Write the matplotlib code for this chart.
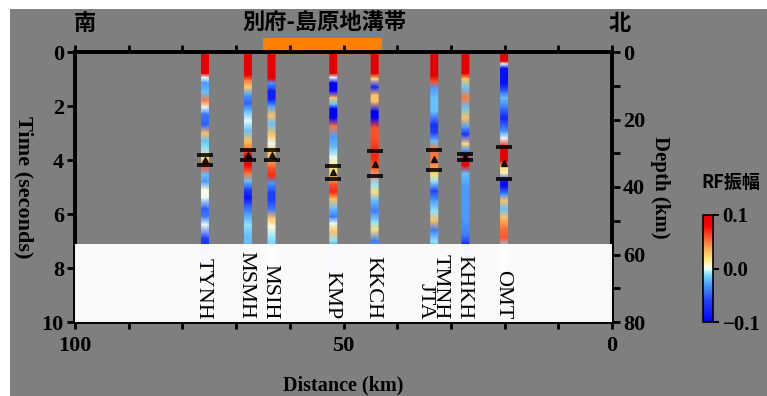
import numpy as np
import matplotlib
matplotlib.use("Agg")
import matplotlib.pyplot as plt
from matplotlib.colors import LinearSegmentedColormap, Normalize
from matplotlib.patches import Rectangle
from matplotlib.ticker import MultipleLocator

# stations along the profile (distance in km, south -> north)
stations = ["TYNH", "MSMH", "MSIH", "KMP", "KKCH", "TMNH\nJTA", "KHKH", "OMT"]
station_km = [75.8, 67.8, 63.4, 51.9, 44.2, 33.1, 27.3, 20.1]

# receiver function amplitude (time in s)
tynh_t = [0, 0.8, 0.95, 1.15, 1.5, 1.8, 2.05, 2.3, 2.7, 3.0, 3.3, 3.55, 3.95, 4.25, 4.55, 4.8, 5.1, 5.4, 5.8, 6.1, 6.4, 6.9, 7.2, 8.0, 9.0, 10.0]
tynh_a = [0.1, 0.1, 0.0, -0.03, -0.02, 0.05, 0.0, -0.04, -0.05, 0.03, -0.02, -0.01, 0.02, 0.06, -0.02, -0.03, 0.005, 0.0, -0.05, -0.04, 0.0, -0.06, -0.07, -0.03, -0.02, -0.03]
msmh_t = [0, 0.85, 1.05, 1.3, 1.6, 1.9, 2.2, 2.55, 2.9, 3.3, 3.6, 3.85, 4.2, 4.5, 4.8, 5.1, 5.4, 5.7, 6.0, 6.4, 6.8, 7.2, 8.5, 10]
msmh_a = [0.1, 0.1, 0.05, 0.025, -0.03, -0.05, -0.02, 0.0, -0.02, 0.03, 0.05, 0.1, 0.09, 0.05, -0.02, -0.06, -0.09, -0.05, -0.03, -0.01, -0.02, -0.02, -0.02, -0.02]
msih_t = [0, 1.0, 1.15, 1.45, 1.75, 2.0, 2.35, 2.65, 3.05, 3.4, 3.7, 3.95, 4.3, 4.6, 4.85, 5.2, 5.5, 5.85, 6.15, 6.45, 6.9, 7.2, 8.5, 10]
msih_a = [0.1, 0.1, -0.03, -0.08, -0.08, -0.03, 0.03, -0.02, 0.03, 0.0, 0.03, 0.03, 0.06, 0.07, -0.03, -0.06, -0.06, -0.04, 0.03, 0.005, -0.01, -0.015, 0.0, 0.0]
kmp_t = [0, 0.8, 0.95, 1.15, 1.45, 1.7, 1.95, 2.1, 2.45, 2.75, 3.15, 3.55, 3.9, 4.3, 4.55, 4.9, 5.2, 5.45, 5.8, 6.1, 6.35, 6.65, 7.0, 7.2, 8.5, 10]
kmp_a = [0.1, 0.1, 0.0, -0.1, -0.1, 0.03, -0.02, -0.1, -0.1, 0.05, -0.03, -0.02, 0.0, 0.02, 0.02, 0.06, 0.07, 0.03, -0.02, -0.04, 0.0, 0.03, -0.01, -0.03, -0.03, -0.04]
kkch_t = [0, 0.8, 1.0, 1.3, 1.6, 1.85, 2.2, 2.45, 2.8, 3.2, 3.6, 4.0, 4.4, 4.9, 5.2, 5.5, 5.9, 6.3, 6.6, 7.0, 7.2, 8.5, 10]
kkch_a = [0.1, 0.1, 0.02, -0.08, 0.03, 0.03, -0.1, -0.1, 0.06, 0.06, 0.07, 0.07, 0.05, -0.01, 0.02, -0.02, -0.04, -0.01, 0.02, -0.04, -0.03, -0.02, -0.03]
tmnh_t = [0, 0.9, 1.1, 1.35, 1.7, 2.2, 2.7, 3.0, 3.3, 3.6, 4.0, 4.3, 4.55, 4.8, 5.15, 5.5, 5.9, 6.25, 6.6, 7.0, 7.2, 8.5, 10]
tmnh_a = [0.1, 0.1, 0.06, -0.03, -0.02, -0.02, -0.07, -0.06, -0.02, 0.05, 0.05, 0.04, 0.02, -0.01, -0.06, -0.03, -0.01, 0.03, -0.04, -0.01, -0.02, -0.02, -0.02]
khkh_t = [0, 0.8, 1.0, 1.35, 1.7, 2.05, 2.45, 2.8, 3.05, 3.4, 3.7, 3.95, 4.2, 4.5, 5.0, 5.6, 6.2, 6.8, 7.1, 8.5, 10]
khkh_a = [0.1, 0.1, 0.03, -0.02, 0.05, -0.02, 0.03, -0.03, -0.07, 0.02, -0.04, 0.08, 0.1, -0.02, -0.03, -0.03, -0.03, -0.04, -0.07, -0.03, 0.04]
omt_t = [0, 0.35, 0.45, 0.6, 1.2, 1.45, 1.7, 2.05, 2.45, 2.95, 3.2, 3.55, 4.05, 4.25, 4.5, 4.8, 5.0, 5.3, 5.5, 5.8, 6.15, 6.5, 6.9, 7.2, 8.5, 10]
omt_a = [0.1, 0.1, 0.0, -0.09, -0.09, -0.05, -0.02, -0.04, -0.08, -0.03, 0.0, 0.1, 0.1, 0.02, 0.01, -0.09, -0.09, -0.03, 0.03, -0.02, 0.03, 0.05, 0.06, -0.01, 0.03, -0.02]

trace_t = [tynh_t, msmh_t, msih_t, kmp_t, kkch_t, tmnh_t, khkh_t, omt_t]
trace_a = [tynh_a, msmh_a, msih_a, kmp_a, kkch_a, tmnh_a, khkh_a, omt_a]

# picked Moho conversion time with error range (s)
moho_t = [4.0, 3.82, 3.82, 4.45, 4.15, 3.95, 3.88, 4.11]
moho_top = [3.81, 3.62, 3.62, 4.23, 3.66, 3.62, 3.78, 3.52]
moho_bot = [4.19, 3.99, 3.99, 4.70, 4.58, 4.36, 3.99, 4.70]

rift_start, rift_end = 65.0, 42.8

gray = "#7f7f7f"
cmap = LinearSegmentedColormap.from_list("rf", [
    (0.0, "#0000ff"), (0.2, "#2040ff"), (0.35, "#4a9cff"), (0.44, "#78dcff"),
    (0.49, "#d8fcff"), (0.52, "#fffce0"), (0.58, "#ffe880"), (0.68, "#ffb050"),
    (0.78, "#ff6030"), (0.9, "#ff0000"), (1.0, "#e80000")])
norm = Normalize(-0.1, 0.1)

serif = "Liberation Serif"
cjk = ["Noto Sans CJK JP", "DejaVu Sans"]

fig = plt.figure(figsize=(7.67, 3.96), dpi=100, facecolor="white")
fig.patches.append(Rectangle((10 / 767, 0), 1, 1 - 9 / 396, transform=fig.transFigure,
                             facecolor=gray, edgecolor="none", zorder=-10))

ax = fig.add_axes([75 / 767, 1 - 322 / 396, 537 / 767, 270 / 396])
ax.set_facecolor(gray)
ax.set_xlim(100, 0)
ax.set_ylim(10, 0)

half_w = 0.65
for km, tt, aa in zip(station_km, trace_t, trace_a):
    tt = np.array(tt)
    aa = np.array(aa)
    X = np.column_stack([np.full(len(tt), km - half_w), np.full(len(tt), km + half_w)])
    Y = np.column_stack([tt, tt])
    C = np.column_stack([aa, aa])
    ax.pcolormesh(X, Y, C, shading="gouraud", cmap=cmap, norm=norm, zorder=2)

# white box for station names
ax.add_patch(Rectangle((0, 7.12), 100, 2.88, facecolor="white", edgecolor="none",
                       alpha=0.97, zorder=3))

moho_t = np.array(moho_t)
yerr = [moho_t - np.array(moho_top), np.array(moho_bot) - moho_t]
ax.errorbar(station_km, moho_t, yerr=yerr, fmt="^", color="black", ms=4, alpha=0.85,
            elinewidth=0, capsize=6, capthick=2.8, zorder=4)

for name, km in zip(stations, station_km):
    ax.text(km + 0.3, 9.9, name, rotation=-90, ha="center", va="bottom",
            multialignment="right", fontsize=16, family=serif, zorder=5,
            linespacing=0.75)

ax.add_patch(Rectangle((rift_start, 1.0), rift_end - rift_start, 0.05,
                       transform=ax.get_xaxis_transform(), facecolor="#ff7f00",
                       edgecolor="none", clip_on=False, zorder=1))

for s in ax.spines.values():
    s.set_linewidth(2.8)
ax.xaxis.set_major_locator(MultipleLocator(50))
ax.xaxis.set_minor_locator(MultipleLocator(10))
ax.yaxis.set_major_locator(MultipleLocator(2))
ax.tick_params(axis="x", which="both", top=True, direction="out", width=2, length=5)
ax.tick_params(axis="y", which="both", direction="out", width=2, length=6)
ax.tick_params(axis="x", labelsize=16, pad=5)
ax.tick_params(axis="y", labelsize=16, pad=2)
for lab in ax.get_xticklabels() + ax.get_yticklabels():
    lab.set_family(serif)
    lab.set_fontweight("bold")
ax.set_xlabel("Distance (km)", family=serif, fontweight="bold", fontsize=14.5, labelpad=14)
ax.set_ylabel("Time (seconds)", family=serif, fontweight="bold", fontsize=16,
              rotation=-90, labelpad=20)

ax2 = ax.twinx()
ax2.set_ylim(80, 0)
ax2.yaxis.set_major_locator(MultipleLocator(20))
ax2.yaxis.set_minor_locator(MultipleLocator(10))
ax2.tick_params(axis="y", which="both", direction="out", width=2, length=6, labelsize=16, pad=2)
for lab in ax2.get_yticklabels():
    lab.set_family(serif)
    lab.set_fontweight("bold")
for s in ax2.spines.values():
    s.set_visible(False)
ax2.set_ylabel("Depth (km)", family=serif, fontweight="bold", fontsize=15,
               rotation=-90, labelpad=18)

fig.text(85 / 767, 1 - 24 / 396, "南", family=cjk, fontweight="bold", fontsize=16,
         ha="center", va="center")
fig.text(620 / 767, 1 - 24 / 396, "北", family=cjk, fontweight="bold", fontsize=16,
         ha="center", va="center")
fig.text(325 / 767, 1 - 22 / 396, "別府-島原地溝帯", family=cjk, fontweight="bold",
         fontsize=16, ha="center", va="center")

cax = fig.add_axes([703 / 767, 1 - 322 / 396, 10 / 767, 107 / 396])
sm = plt.cm.ScalarMappable(norm=norm, cmap=cmap)
cb = fig.colorbar(sm, cax=cax, ticks=[-0.1, 0.0, 0.1])
cb.ax.set_yticklabels(["\u22120.1", "0.0", "0.1"])
cb.outline.set_linewidth(1.2)
cb.ax.tick_params(width=1.5, length=4, labelsize=15, pad=3)
for lab in cb.ax.get_yticklabels():
    lab.set_family(serif)
    lab.set_fontweight("bold")
fig.text(731 / 767, 1 - 183 / 396, "RF振幅", family=cjk, fontweight="bold",
         fontsize=13, ha="center", va="center")

fig.savefig("out.png", dpi=100, facecolor=fig.get_facecolor())
